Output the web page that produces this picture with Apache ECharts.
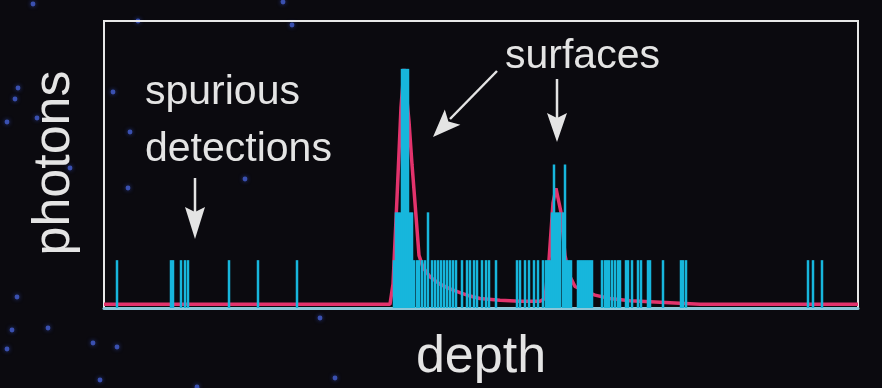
<!DOCTYPE html>
<html>
<head>
<meta charset="utf-8">
<script src="https://cdn.jsdelivr.net/npm/echarts@6/dist/echarts.min.js"></script>
<style>
html,body{margin:0;padding:0;background:#0b0a0f;}
#c{width:882px;height:388px;}
</style>
</head>
<body>
<div id="c"></div>
<script>
// Photon histogram: depth bin -> photon count
var spikeDepth = [13,67,69,77,81,84,125,154,193,
  290,292,294,296,298,300,302,304,306,308,310,313,315,318,321,324,328,331,334,337,340,343,346,349,352,358,363,366,370,373,378,382,385,392,
  413,416,421,425,430,434,439,442,444,446,448,450,452,454,456,459,461,463,465,467,
  474,476,478,480,482,484,486,488,498,501,503,505,508,511,514,516,522,524,528,534,537,544,546,559,577,579,582,
  704,709,718];
var spikeCount = [1,1,1,1,1,1,1,1,1,
  1,2,2,2,5,5,5,5,2,2,1,1,1,1,1,2,1,1,1,1,1,1,1,1,1,1,1,1,1,1,1,1,1,1,
  1,1,1,1,1,1,1,1,1,1,2,3,2,2,2,2,3,1,1,1,
  1,1,1,1,1,1,1,1,1,1,1,1,1,1,1,1,1,1,1,1,1,1,1,1,1,1,1,
  1,1,1];
// Fitted waveform (red)
var fitDepth = [0,286,289,293,297,300,302,305,308,311,315,319,326,336,346,356,366,376,396,416,436,441,445,449,452,454,457,461,465,471,481,491,506,526,556,596,754];
var fitValue = [0.08,0.08,0.5,2.3,4.2,5.0,5.0,3.9,3.0,2.2,1.1,0.85,0.65,0.5,0.4,0.32,0.25,0.2,0.16,0.14,0.14,0.2,1.0,2.2,2.5,2.5,2.0,1.1,0.7,0.45,0.35,0.27,0.2,0.15,0.12,0.08,0.08];

var xLabel = 'depth';
var yLabel = 'photons';
var noteSpurious = ['spurious', 'detections'];
var noteSurfaces = 'surfaces';

var stars = [[33,4],[138,21],[292,25],[283,2],[18,88],[15,99],[7,122],[37,118],[113,92],[130,132],[70,168],[245,179],[128,188],[17,297],[12,330],[48,328],[7,349],[93,343],[117,347],[100,380],[197,387],[320,318],[335,378]];

var spikes = spikeDepth.map(function(d,i){return [d, spikeCount[i]];});
var fit = fitDepth.map(function(d,i){return [d, fitValue[i]];});

var chart = echarts.init(document.getElementById('c'));
var txt = '#e4e4e4';
var fam = '"Liberation Sans", Arial, sans-serif';
var graphics = [];
stars.forEach(function(s){
  graphics.push({type:'circle', shape:{cx:s[0], cy:s[1], r:2.4}, style:{fill:'#3a50b0', shadowBlur:4, shadowColor:'#2a3c90'}, z:-1});
});
graphics.push(
  {type:'text', x:55, y:163, rotation:Math.PI/2, style:{text:yLabel, fill:txt, font:'52px ' + fam, align:'center', verticalAlign:'middle'}},
  {type:'text', x:481, y:358, style:{text:xLabel, fill:txt, font:'52px ' + fam, align:'center', verticalAlign:'middle'}},
  {type:'text', x:145, y:93, style:{text:noteSpurious[0], fill:txt, font:'41px ' + fam, align:'left', verticalAlign:'middle'}},
  {type:'text', x:145, y:150, style:{text:noteSpurious[1], fill:txt, font:'41px ' + fam, align:'left', verticalAlign:'middle'}},
  {type:'text', x:505, y:57, style:{text:noteSurfaces, fill:txt, font:'41px ' + fam, align:'left', verticalAlign:'middle'}},
  // arrows
  {type:'line', shape:{x1:195, y1:178, x2:195, y2:215}, style:{stroke:txt, lineWidth:2.5}, z:10},
  {type:'polygon', shape:{points:[[185,207],[195,212],[205,207],[195,239]]}, style:{fill:txt}, z:10},
  {type:'line', shape:{x1:557, y1:79, x2:557, y2:120}, style:{stroke:txt, lineWidth:2.5}, z:10},
  {type:'polygon', shape:{points:[[547,113],[557,118],[567,113],[557,142]]}, style:{fill:txt}, z:10},
  {type:'line', shape:{x1:497, y1:71, x2:450, y2:119}, style:{stroke:txt, lineWidth:2.5}, z:10},
  {type:'polygon', shape:{points:[[444.8,109.4],[448.4,121.4],[460.4,124.8],[433,137]]}, style:{fill:txt}, z:10}
);

chart.setOption({
  backgroundColor:'#0b0a0f',
  animation:false,
  grid:{left:104, right:24, top:21, bottom:80, show:true, borderColor:'#e8e8e8', borderWidth:2, backgroundColor:'transparent'},
  xAxis:{type:'value', min:0, max:754, axisLine:{show:true, onZero:false, lineStyle:{color:'#8cc6d8', width:3}}, axisTick:{show:false}, axisLabel:{show:false}, splitLine:{show:false}},
  yAxis:{type:'value', min:0, max:6, axisLine:{show:false}, axisTick:{show:false}, axisLabel:{show:false}, splitLine:{show:false}},
  series:[
    {type:'line', data:fit, showSymbol:false, smooth:false, lineStyle:{color:'#e3336c', width:3.5}, z:2},
    {type:'bar', data:spikes, barWidth:2.5, itemStyle:{color:'#17b6dc'}, z:3}
  ],
  graphic:graphics
});
</script>
</body>
</html>
